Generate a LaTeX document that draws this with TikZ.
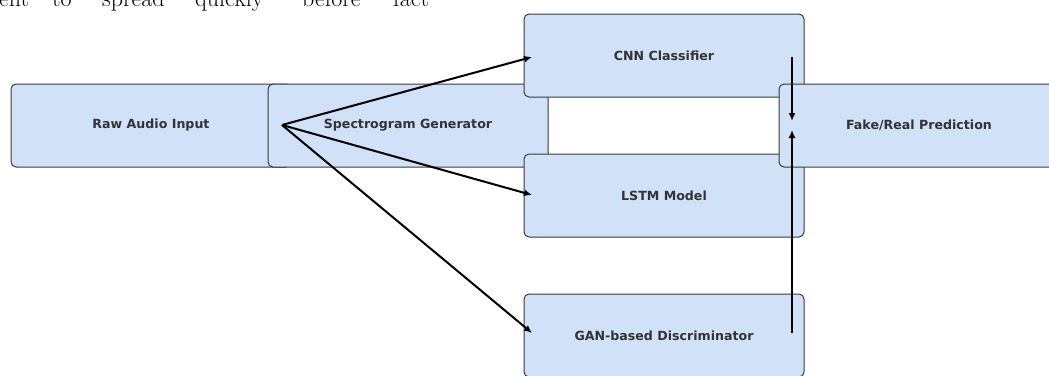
\documentclass[tikz,border=0pt]{standalone}
\usepackage{fontspec}
\newfontfamily\boxfont{DejaVu Sans}
\usetikzlibrary{arrows.meta}
\definecolor{boxfill}{HTML}{D0E1F8}
\definecolor{boxedge}{HTML}{3A3A3A}
\definecolor{boxtext}{HTML}{333333}
\tikzset{
  procbox/.style={draw=boxedge, line width=1pt, fill=boxfill, rounded corners=5pt,
    minimum width=280pt, minimum height=83pt, inner sep=0pt,
    font=\boxfont\bfseries\fontsize{12.6}{15}\selectfont, text=boxtext},
  flow/.style={line width=2pt, black, -{Latex[length=8pt,width=7pt]}},
  toptext/.style={anchor=base west, inner sep=0pt, font=\fontsize{24}{28}\selectfont}
}
\begin{document}
\begin{tikzpicture}[x=1pt,y=-1pt]
\useasboundingbox (0,0) rectangle (1049,375);
\clip (0,0) rectangle (1049,375);
% top text fragment
\node[toptext] (w1) at (-1,6) {ent};
\node[toptext] (w2) at (52,6) {to};
\node[toptext] (w3) at (102,6) {spread};
\node[toptext] (w4) at (195,6) {quickly};
\node[toptext] (w5) at (302,6) {before};
\node[toptext] (w6) at (393,6) {fact};
% boxes
\node[procbox] (raw) at (151,125.5) {Raw Audio Input};
\node[procbox] (spec) at (408,125.5) {Spectrogram Generator};
\node[procbox] (cnn) at (664,55.5) {CNN Classifier};
\node[procbox] (lstm) at (664,195.5) {LSTM Model};
\node[procbox] (gan) at (664,335.5) {GAN-based Discriminator};
\node[procbox] (fake) at (919,125.5) {Fake/Real Prediction};
% connector end points
\coordinate (src) at (282,125);
\coordinate (cnnIn) at (532,57);
\coordinate (lstmIn) at (532,195);
\coordinate (ganIn) at (532,333);
\coordinate (cnnOut) at (792,57);
\coordinate (ganOut) at (792,333);
\coordinate (fakeTop) at (792,121);
\coordinate (fakeBot) at (792,130);
\draw[flow] (src) -- (cnnIn);
\draw[flow] (src) -- (lstmIn);
\draw[flow] (src) -- (ganIn);
\draw[flow] (cnnOut) -- (fakeTop);
\draw[flow] (ganOut) -- (fakeBot);
\end{tikzpicture}
\end{document}
